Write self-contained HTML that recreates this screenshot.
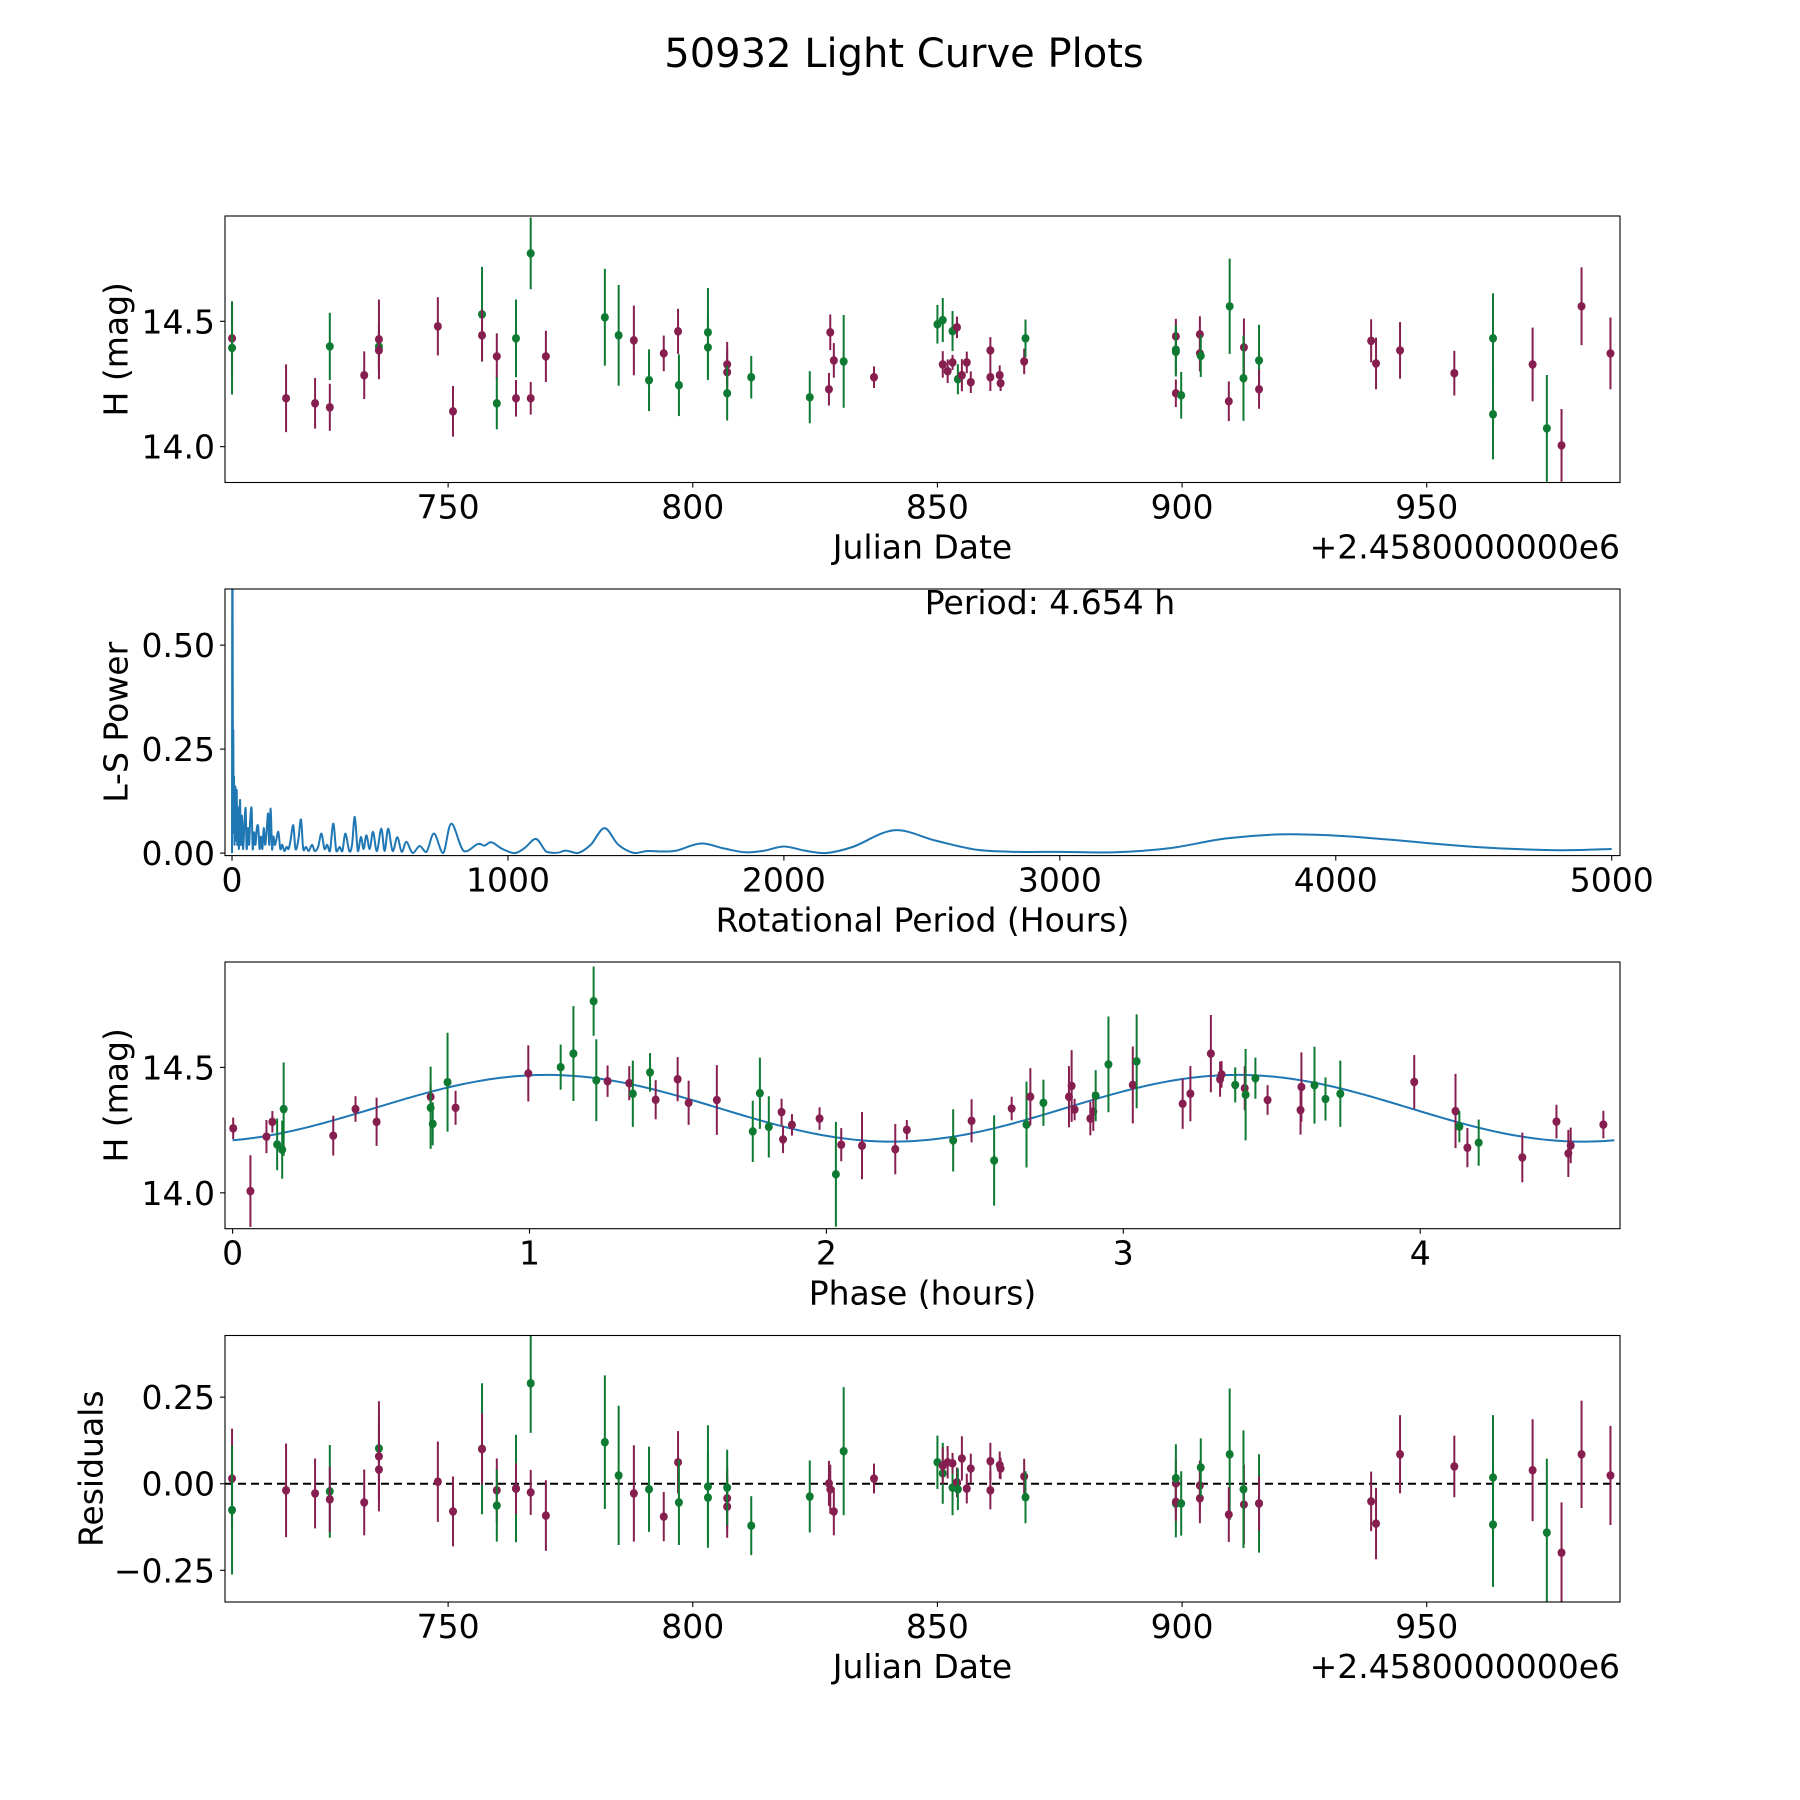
<!DOCTYPE html>
<html><head><meta charset="utf-8"><title>50932 Light Curve Plots</title>
<style>
html,body{margin:0;padding:0;background:#fff;}
svg{display:block;font-family:"DejaVu Sans","Liberation Sans",sans-serif;}
</style></head>
<body>
<svg id="fig" width="1800" height="1800" viewBox="0 0 1800 1800" xmlns="http://www.w3.org/2000/svg">
<rect width="1800" height="1800" fill="#fff"/>
<text x="904" y="67" font-size="40" text-anchor="middle" fill="#000">50932 Light Curve Plots</text>
<g id="root"></g>
</svg>
<script>
// ---------- DATA: light curve (Julian Date offsets from 2458000) ----------
const lcJD = [705.84,705.84,716.88,722.81,725.82,725.82,732.85,735.86,735.86,735.86,747.90,751.00,756.93,756.93,759.95,759.95,763.87,763.87,766.88,766.88,769.98,782.03,784.85,787.96,791.06,794.07,796.99,797.17,803.10,803.10,807.03,807.03,807.03,811.95,823.91,827.83,828.10,828.83,830.84,837.04,
850.0,851.09,851.09,852.09,853.09,853.09,854.0,854.18,855.0,856.0,856.82,860.82,860.82,862.73,862.91,867.73,868.0,898.73,898.73,898.73,898.73,899.82,903.64,903.64,903.82,909.73,909.55,912.64,912.55,915.73,915.73,938.64,939.64,944.55,955.64,963.55,963.55,971.64,974.55,977.55,981.64,987.55];
const lcMag = [14.432,14.394,14.193,14.173,14.400,14.157,14.285,14.399,14.428,14.384,14.480,14.141,14.528,14.444,14.360,14.173,14.432,14.193,14.771,14.193,14.360,14.516,14.444,14.424,14.265,14.372,14.460,14.245,14.456,14.396,14.328,14.297,14.213,14.277,14.197,14.229,14.456,14.344,14.340,14.277,
14.488,14.505,14.328,14.301,14.461,14.336,14.476,14.269,14.285,14.336,14.257,14.384,14.277,14.285,14.253,14.340,14.432,14.440,14.387,14.378,14.213,14.205,14.448,14.372,14.362,14.560,14.181,14.396,14.273,14.344,14.229,14.422,14.332,14.384,14.293,14.432,14.129,14.328,14.073,14.005,14.560,14.372];
const lcErr = [0.144,0.186,0.135,0.101,0.134,0.094,0.095,0.09,0.159,0.09,0.116,0.101,0.189,0.103,0.092,0.104,0.155,0.073,0.143,0.065,0.102,0.193,0.201,0.139,0.123,0.071,0.090,0.123,0.177,0.13,0.090,0.09,0.109,0.085,0.104,0.065,0.071,0.069,0.185,0.043,
0.077,0.088,0.053,0.047,0.080,0.030,0.043,0.060,0.064,0.043,0.043,0.053,0.055,0.039,0.031,0.051,0.075,0.070,0.098,0.098,0.055,0.093,0.072,0.072,0.084,0.190,0.079,0.115,0.170,0.142,0.078,0.086,0.103,0.113,0.089,0.180,0.18,0.147,0.213,0.145,0.155,0.143];
const lcBand = ["m","g","m","m","g","m","m","g","m","m","m","m","g","m","m","g","g","m","g","m","m","g","g","m","g","m","m","g","g","g","m","m","g","g","g","m","m","m","g","m",
"g","g","m","m","g","m","m","g","m","m","m","m","m","m","m","m","g","m","g","g","m","g","m","m","g","g","m","m","g","g","m","m","m","m","m","g","g","m","g","m","m","m"];
const resid = [0.015,-0.076,-0.019,-0.028,-0.022,-0.045,-0.054,0.102,0.079,0.041,0.006,-0.080,0.101,0.100,-0.019,-0.063,-0.014,-0.014,0.290,-0.025,-0.092,0.120,0.024,-0.028,-0.016,-0.095,0.062,-0.054,-0.008,-0.040,-0.042,-0.066,-0.011,-0.121,-0.037,0.001,-0.016,-0.080,0.094,0.015,
0.062,0.030,0.052,0.062,-0.011,0.059,0.004,-0.016,0.073,-0.014,0.044,0.065,-0.019,0.054,0.044,0.021,-0.039,0.001,0.016,-0.057,-0.052,-0.057,-0.005,-0.042,0.047,0.085,-0.089,-0.060,-0.016,-0.057,-0.057,-0.051,-0.115,0.085,0.050,0.018,-0.118,0.039,-0.141,-0.199,0.085,0.024];

// ---------- DATA: Lomb-Scargle periodogram ----------
const lsPeriod = [0,1.2,3,4.8,6,7.3,9,12,14,17,19,22,25,29,32,36,40,45,49.5,53,58,62,66,71,75,80,85,90,95,100,105,110,115,120,125,131,135,140,145,150,155,160,168,175,182,190,198,205,212,222,230,240,250,258,268,278,290,300,312,324,335,345,355,367,378,390,400,411,425,435,445,456,467,477,487,499,511,525,541,553,566,582,599,615,632,655,680,705,732,765,795,840,891,915,940,980,1024,1060,1102,1140,1181,1210,1253,1300,1350,1400,1458,1506,1560,1610,1700,1784,1860,1930,2000,2075,2150,2250,2400,2550,2700,2850,3000,3200,3400,3600,3800,4000,4200,4500,4800,5000];
const lsPower = [0.0,0.9,0.3,0.288,0.05,0.184,0.02,0.16,0.03,0.152,0.02,0.11,0.01,0.128,0.02,0.09,0.01,0.07,0.107,0.01,0.06,0.02,0.08,0.107,0.01,0.05,0.02,0.06,0.063,0.01,0.04,0.01,0.06,0.02,0.05,0.095,0.02,0.107,0.01,0.04,0.02,0.03,0.051,0.01,0.02,0.005,0.015,0.01,0.03,0.067,0.01,0.03,0.081,0.01,0.015,0.005,0.02,0.005,0.015,0.047,0.01,0.02,0.005,0.071,0.005,0.015,0.005,0.047,0.005,0.02,0.087,0.005,0.039,0.01,0.043,0.01,0.051,0.005,0.059,0.005,0.059,0.005,0.038,0.003,0.027,0.0,0.017,0.003,0.047,0.0,0.071,0.005,0.022,0.018,0.026,0.01,0.0,0.012,0.034,0.003,0.001,0.006,0.0,0.02,0.06,0.02,0.0,0.005,0.004,0.006,0.023,0.011,0.002,0.006,0.016,0.006,0.0,0.015,0.055,0.03,0.008,0.003,0.003,0.002,0.012,0.035,0.045,0.042,0.032,0.015,0.007,0.01];
const periodLabel = ["Period: 4.654 h"];

// ---------- DATA: phased light curve ----------
const phPhase = [0.002,0.060,0.114,0.134,0.150,0.167,0.172,0.339,0.414,0.485,0.667,0.667,0.674,0.724,0.751,0.996,1.105,1.148,1.216,1.225,1.263,1.336,1.348,1.406,1.425,1.499,1.536,1.631,1.752,1.776,1.806,1.849,1.854,1.884,1.977,2.032,2.050,2.120,2.232,2.271,
2.427,2.489,2.565,2.624,2.674,2.687,2.731,2.817,2.826,2.836,2.889,2.899,2.907,2.950,3.032,3.045,3.200,3.226,3.295,3.326,3.331,3.377,3.409,3.412,3.445,3.486,3.597,3.600,3.644,3.681,3.731,3.980,4.119,4.132,4.159,4.197,4.344,4.459,4.499,4.507,4.617];
const phMag = [14.257,14.007,14.224,14.283,14.193,14.172,14.334,14.228,14.334,14.283,14.383,14.339,14.275,14.441,14.339,14.476,14.501,14.555,14.764,14.449,14.445,14.437,14.395,14.480,14.371,14.453,14.359,14.370,14.245,14.397,14.263,14.322,14.213,14.271,14.296,14.074,14.192,14.188,14.174,14.251,
14.209,14.287,14.129,14.336,14.272,14.383,14.359,14.383,14.426,14.332,14.296,14.324,14.387,14.512,14.430,14.524,14.355,14.395,14.555,14.453,14.472,14.430,14.417,14.391,14.457,14.370,14.330,14.422,14.429,14.374,14.395,14.442,14.326,14.264,14.180,14.200,14.141,14.284,14.157,14.189,14.272];
const phErr = [0.043,0.143,0.066,0.043,0.103,0.116,0.186,0.079,0.051,0.096,0.049,0.164,0.086,0.197,0.068,0.112,0.090,0.189,0.138,0.163,0.0625,0.068,0.132,0.077,0.078,0.088,0.088,0.139,0.122,0.142,0.122,0.053,0.055,0.043,0.045,0.209,0.066,0.134,0.100,0.039,
0.124,0.086,0.180,0.047,0.171,0.114,0.092,0.122,0.143,0.043,0.067,0.077,0.102,0.191,0.153,0.187,0.100,0.110,0.154,0.070,0.053,0.070,0.088,0.182,0.082,0.059,0.098,0.138,0.153,0.086,0.132,0.107,0.148,0.0625,0.078,0.092,0.099,0.067,0.094,0.071,0.055];
const phBand = ["m","m","m","m","g","g","g","m","m","m","m","g","g","g","m","m","g","g","g","g","m","m","g","g","m","m","m","m","g","g","g","m","m","m","m","g","m","m","m","m",
"g","m","g","m","g","m","g","m","m","m","m","m","g","g","m","g","m","m","m","m","m","g","m","g","g","m","m","m","g","g","g","m","m","g","m","g","m","m","m","m","m"];
// fitted two-harmonic model: mean, amplitude, phase of peak, period (h)
const fitMean = [14.337];
const fitAmp = [0.133];
const fitPeak = [1.058];
const fitPeriod = [4.654];

// ---------- tick labels ----------
const jdTicks = [750,800,850,900,950];
const magTicks = [14.0,14.5];
const magTickLabels = ["14.0","14.5"];
const lsXTicks = [0,1000,2000,3000,4000,5000];
const lsYTicks = [0,0.25,0.5];
const lsYTickLabels = ["0.00","0.25","0.50"];
const phTicks = [0,1,2,3,4];
const resTicks = [-0.25,0,0.25];
const resTickLabels = ["\u22120.25","0.00","0.25"];

// ---------- layout ----------
const NS = "http://www.w3.org/2000/svg";
const root = document.getElementById('root');
const COL = {m:"#861f50", g:"#0e7a32"};
const L = 225, R = 1620;
const FS = 33;
function mk(tag, attrs, parent){ const e = document.createElementNS(NS, tag); for (const k in attrs) e.setAttribute(k, attrs[k]); (parent||root).appendChild(e); return e; }
function lin(d0,d1,r0,r1){ return v => r0 + (v-d0)*(r1-r0)/(d1-d0); }

function makeAxes(name, top, bottom, xd, yd){
  const g = mk('g', {});
  
  
  return {g, top, bottom, x: lin(xd[0],xd[1],L,R), y: lin(yd[0],yd[1],bottom,top)};
}
function frame(ax){
  const r = mk('rect', {x:L, y:ax.top, width:R-L, height:ax.bottom-ax.top, fill:'none', stroke:'#000', 'stroke-width':1.1}, ax.g);
  
  
}
function xTicks(ax, vals, labels){
  vals.forEach((v,i) => {
    const px = ax.x(v);
    mk('line', {x1:px, x2:px, y1:ax.bottom, y2:ax.bottom+5, stroke:'#000', 'stroke-width':1.1}, ax.g);
    const t = mk('text', {x:px, y:ax.bottom+36, 'font-size':FS, 'text-anchor':'middle'}, ax.g);
    t.textContent = labels ? labels[i] : String(v);
    
    
  });
}
function yTicks(ax, vals, labels){
  vals.forEach((v,i) => {
    const py = ax.y(v);
    mk('line', {x1:L-5, x2:L, y1:py, y2:py, stroke:'#000', 'stroke-width':1.1}, ax.g);
    const t = mk('text', {x:L-10, y:py+12, 'font-size':FS, 'text-anchor':'end'}, ax.g);
    t.textContent = labels[i];
    
    
  });
}
function xLabel(ax, txt, name){
  const t = mk('text', {x:(L+R)/2, y:ax.bottom+76, 'font-size':FS, 'text-anchor':'middle'}, ax.g);
  t.textContent = txt;
  
  
}
function yLabel(ax, txt, xc, name){
  const cy = (ax.top+ax.bottom)/2;
  const t = mk('text', {x:xc, y:cy, 'font-size':FS, 'text-anchor':'middle', 'dominant-baseline':'central', transform:`rotate(-90 ${xc} ${cy})`}, ax.g);
  t.textContent = txt;
  
  
}
function offsetText(ax){
  const t = mk('text', {x:R, y:ax.bottom+76, 'font-size':FS, 'text-anchor':'end'}, ax.g);
  t.textContent = "+2.4580000000e6";
  
  
}
function errPoints(ax, xs, ys, es, bands, clipId){
  const pg = mk('g', {'clip-path':`url(#${clipId})`}, ax.g);
  
  
  xs.forEach((xv,i) => {
    const px = ax.x(xv), py = ax.y(ys[i]), c = COL[bands[i]];
    const ln = mk('line', {x1:px, x2:px, y1:ax.y(ys[i]+es[i]), y2:ax.y(ys[i]-es[i]), stroke:c, 'stroke-width':2}, pg);
    
    
    const dot = mk('ellipse', {cx:px, cy:py, rx:4, ry:4.3, fill:c}, pg);
    
    
  });
}
function clip(id, ax){
  const defs = mk('defs', {});
  const cp = mk('clipPath', {id}, defs);
  mk('rect', {x:L, y:ax.top, width:R-L, height:ax.bottom-ax.top}, cp);
}

// ---------- Panel 1: light curve ----------
const ax1 = makeAxes('light-curve-panel', 216, 482.5, [704.4,989.5], [13.857,14.920]);
clip('c1', ax1);
errPoints(ax1, lcJD, lcMag, lcErr, lcBand, 'c1');
frame(ax1); xTicks(ax1, jdTicks); yTicks(ax1, magTicks, magTickLabels);
xLabel(ax1, 'Julian Date', 'x-axis-title-julian-date'); offsetText(ax1);
yLabel(ax1, 'H (mag)', 116, 'y-axis-title-h-mag');

// ---------- Panel 2: periodogram ----------
const ax2 = makeAxes('periodogram-panel', 589, 855.6, [-25.4,5030], [-0.006,0.635]);
clip('c2', ax2);
(function(){
  const pts = lsPeriod.map((p,i) => [ax2.x(p), ax2.y(lsPower[i])]);
  let d = `M${pts[0][0]},${pts[0][1]}`;
  for (let i=0;i<pts.length-1;i++){
    const p0 = pts[Math.max(0,i-1)], p1 = pts[i], p2 = pts[i+1], p3 = pts[Math.min(pts.length-1,i+2)];
    const c1x = p1[0]+(p2[0]-p0[0])/6, c1y = Math.min(ax2.y(0), p1[1]+(p2[1]-p0[1])/6);
    const c2x = p2[0]-(p3[0]-p1[0])/6, c2y = Math.min(ax2.y(0), p2[1]-(p3[1]-p1[1])/6);
    d += ` C${c1x},${c1y} ${c2x},${c2y} ${p2[0]},${p2[1]}`;
  }
  const path = mk('path', {d, fill:'none', stroke:'#1f77b4', 'stroke-width':2, 'clip-path':'url(#c2)', 'stroke-linejoin':'round'}, ax2.g);
  
  
})();
frame(ax2);
xTicks(ax2, lsXTicks); yTicks(ax2, lsYTicks, lsYTickLabels);
xLabel(ax2, 'Rotational Period (Hours)', 'x-axis-title-rotational-period');
yLabel(ax2, 'L-S Power', 116, 'y-axis-title-ls-power');
(function(){
  const t = mk('text', {x:1050, y:614, 'font-size':FS, 'text-anchor':'middle'}, ax2.g);
  t.textContent = periodLabel[0];
  
  
})();

// ---------- Panel 3: phased ----------
const ax3 = makeAxes('phased-curve-panel', 962, 1228.7, [-0.0256,4.673], [13.857,14.920]);
clip('c3', ax3);
(function(){
  let d = '';
  const n = 300;
  for (let i=0;i<=n;i++){
    const ph = fitPeriod[0]*i/n;
    const m = fitMean[0] + fitAmp[0]*Math.cos(4*Math.PI*(ph-fitPeak[0])/fitPeriod[0]);
    d += (i? ' L':'M') + ax3.x(ph) + ',' + ax3.y(m);
  }
  const path = mk('path', {d, fill:'none', stroke:'#1f77b4', 'stroke-width':2}, ax3.g);
  
  
})();
errPoints(ax3, phPhase, phMag, phErr, phBand, 'c3');
frame(ax3); xTicks(ax3, phTicks); yTicks(ax3, magTicks, magTickLabels);
xLabel(ax3, 'Phase (hours)', 'x-axis-title-phase');
yLabel(ax3, 'H (mag)', 116, 'y-axis-title-h-mag-phased');

// ---------- Panel 4: residuals ----------
const ax4 = makeAxes('residuals-panel', 1335.5, 1602, [704.4,989.5], [-0.3415,0.428]);
clip('c4', ax4);
(function(){
  const ln = mk('line', {x1:L, x2:R, y1:ax4.y(0), y2:ax4.y(0), stroke:'#000', 'stroke-width':2, 'stroke-dasharray':'8,5'}, ax4.g);
  
  
})();
errPoints(ax4, lcJD, resid, lcErr, lcBand, 'c4');
frame(ax4); xTicks(ax4, jdTicks); yTicks(ax4, resTicks, resTickLabels);
xLabel(ax4, 'Julian Date', 'x-axis-title-julian-date-residuals'); offsetText(ax4);
yLabel(ax4, 'Residuals', 91, 'y-axis-title-residuals');
</script>
</body></html>
